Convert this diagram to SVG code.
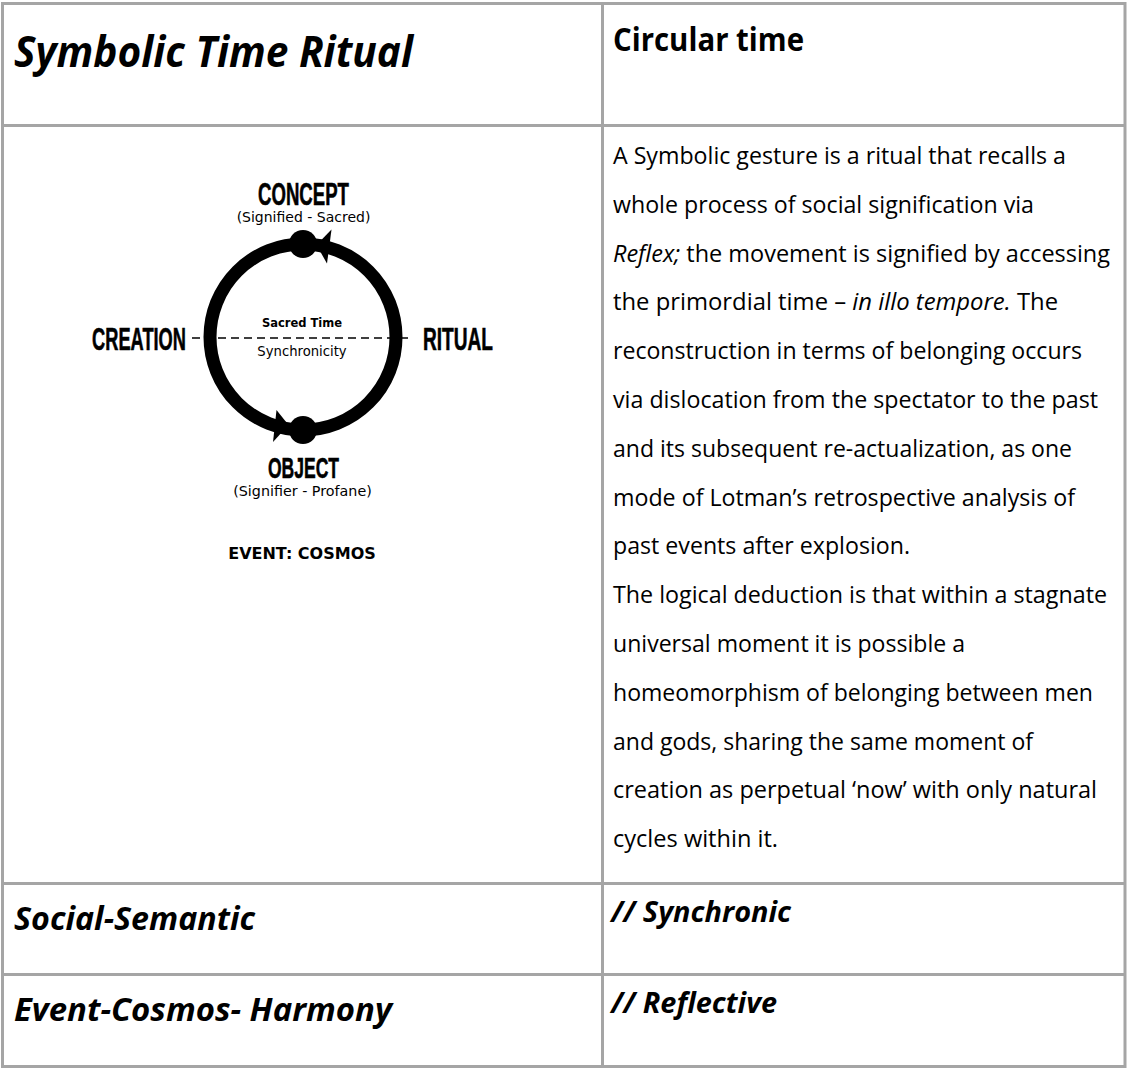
<svg xmlns="http://www.w3.org/2000/svg" width="1127" height="1068" viewBox="0 0 1127 1068">
<style>
.grid{stroke:#a5a5a5;stroke-width:3;fill:none}
.cal{font-family:"Open Sans","Lato","Liberation Sans",sans-serif;fill:#000}
.bi{font-weight:700;font-style:italic}
.b{font-weight:700}
.body text{font-size:23.5px}
.disp{font-family:"Liberation Sans",sans-serif;font-weight:700;fill:#000;stroke:#000;stroke-width:0.6;text-anchor:middle}
.ver{font-family:"DejaVu Sans","Liberation Sans",sans-serif;fill:#000;text-anchor:middle}
</style>
<rect width="1127" height="1068" fill="#fff"/>
<g id="table-grid">
<rect class="grid" x="2.5" y="3.5" width="1122.5" height="1063"/>
<line class="grid" x1="602.5" y1="3.5" x2="602.5" y2="1066.5"/>
<line class="grid" x1="2.5" y1="125.5" x2="1125" y2="125.5"/>
<line class="grid" x1="2.5" y1="883.5" x2="1125" y2="883.5"/>
<line class="grid" x1="2.5" y1="974.5" x2="1125" y2="974.5"/>
</g>
<g id="cell-title">
<text class="cal bi" x="14" y="67" font-size="43" textLength="399" lengthAdjust="spacingAndGlyphs">Symbolic Time Ritual</text>
</g>
<g id="cell-circular">
<text class="cal b" x="613" y="51" font-size="32" textLength="191" lengthAdjust="spacingAndGlyphs">Circular time</text>
</g>
<g id="cell-diagram">
<g id="connectors">
<circle cx="303" cy="337" r="93" fill="none" stroke="#000" stroke-width="13"/>
<line x1="192" y1="338" x2="412" y2="338" stroke="#000" stroke-width="1.5" stroke-dasharray="8 5"/>
<polygon points="316.5,245 331.5,229.5 327,263.5" fill="#000"/>
<polygon points="288.5,425 276.5,410 273,442" fill="#000"/>
</g>
<g id="node-concept">
<circle cx="303" cy="244" r="14" fill="#000"/>
<text class="disp" font-size="31" transform="translate(303.5,205) scale(0.6,1)">CONCEPT</text>
<text class="ver" x="303.5" y="222" font-size="14">(Signified - Sacred)</text>
</g>
<g id="node-object">
<circle cx="303" cy="430" r="14" fill="#000"/>
<text class="disp" font-size="29.5" transform="translate(303.5,478) scale(0.594,1)">OBJECT</text>
<text class="ver" x="302.5" y="496" font-size="14.3">(Signifier - Profane)</text>
</g>
<g id="node-creation">
<text class="disp" font-size="32" transform="translate(139,350) scale(0.57,1)">CREATION</text>
</g>
<g id="node-ritual">
<text class="disp" font-size="32" transform="translate(458,350) scale(0.597,1)">RITUAL</text>
</g>
<g id="node-center">
<text class="ver b" x="302" y="327" font-size="11.5">Sacred Time</text>
<text class="ver" x="302" y="356" font-size="13.2">Synchronicity</text>
</g>
<text class="ver b" x="302" y="559" font-size="16">EVENT: COSMOS</text>
</g>
<g id="cell-description" class="cal body">
<text x="613" y="164" textLength="453" lengthAdjust="spacingAndGlyphs">A Symbolic gesture is a ritual that recalls a</text>
<text x="613" y="212.8" textLength="421" lengthAdjust="spacingAndGlyphs">whole process of social signification via</text>
<text x="613" y="261.6" textLength="497" lengthAdjust="spacingAndGlyphs"><tspan font-style="italic">Reflex;</tspan> the movement is signified by accessing</text>
<text x="613" y="310.4" textLength="445" lengthAdjust="spacingAndGlyphs">the primordial time – <tspan font-style="italic">in illo tempore.</tspan> The</text>
<text x="613" y="359.2" textLength="469" lengthAdjust="spacingAndGlyphs">reconstruction in terms of belonging occurs</text>
<text x="613" y="408" textLength="485" lengthAdjust="spacingAndGlyphs">via dislocation from the spectator to the past</text>
<text x="613" y="456.8" textLength="459" lengthAdjust="spacingAndGlyphs">and its subsequent re-actualization, as one</text>
<text x="613" y="505.6" textLength="462" lengthAdjust="spacingAndGlyphs">mode of Lotman’s retrospective analysis of</text>
<text x="613" y="554.4" textLength="297" lengthAdjust="spacingAndGlyphs">past events after explosion.</text>
<text x="613" y="603.2" textLength="494" lengthAdjust="spacingAndGlyphs">The logical deduction is that within a stagnate</text>
<text x="613" y="652" textLength="352" lengthAdjust="spacingAndGlyphs">universal moment it is possible a</text>
<text x="613" y="700.8" textLength="480" lengthAdjust="spacingAndGlyphs">homeomorphism of belonging between men</text>
<text x="613" y="749.6" textLength="420" lengthAdjust="spacingAndGlyphs">and gods, sharing the same moment of</text>
<text x="613" y="798.4" textLength="484" lengthAdjust="spacingAndGlyphs">creation as perpetual ‘now’ with only natural</text>
<text x="613" y="847.2" textLength="165" lengthAdjust="spacingAndGlyphs">cycles within it.</text>
</g>
<g id="cell-social">
<text class="cal bi" x="14" y="930" font-size="32" textLength="241" lengthAdjust="spacingAndGlyphs">Social-Semantic</text>
</g>
<g id="cell-synchronic">
<text class="cal bi" x="611" y="922" font-size="28" textLength="180" lengthAdjust="spacingAndGlyphs">// Synchronic</text>
</g>
<g id="cell-event">
<text class="cal bi" x="14" y="1021" font-size="32" textLength="378" lengthAdjust="spacingAndGlyphs">Event-Cosmos- Harmony</text>
</g>
<g id="cell-reflective">
<text class="cal bi" x="611" y="1013" font-size="28" textLength="166" lengthAdjust="spacingAndGlyphs">// Reflective</text>
</g>
</svg>
